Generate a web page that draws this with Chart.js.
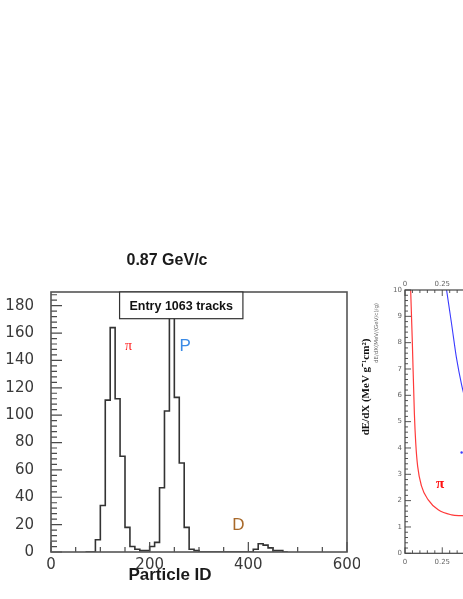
<!DOCTYPE html>
<html>
<head>
<meta charset="utf-8">
<script src="https://cdn.jsdelivr.net/npm/chart.js@4.4.1/dist/chart.umd.min.js"></script>
<style>
  html, body { margin: 0; padding: 0; background: #fff; }
  body { width: 463px; height: 599px; overflow: hidden; position: relative; }
  #dedxChart { position: absolute; left: 355px; top: 270px; }
  #pidChart { position: absolute; left: 0; top: 240px; }
</style>
</head>
<body>
<canvas id="dedxChart" width="260" height="329"></canvas>
<canvas id="pidChart" width="360" height="359"></canvas>
<script>
// Particle ID histogram: lower bin edges (width 10) and entries per bin
const binLow = [70, 80, 90, 100, 110, 120, 130, 140, 150, 160, 170, 180, 190,
                200, 210, 220, 230, 240, 250, 260, 270, 280, 290, 300, 310,
                320, 330, 340, 350, 360, 370, 380, 390, 400, 410, 420, 430,
                440, 450, 460, 470];
const counts = [0, 0, 9, 34, 111, 164, 112, 70, 18, 4, 2, 1, 1,
                4, 7, 47, 103, 180, 113, 65, 18, 2, 1, 0, 0,
                0, 0, 0, 0, 0, 0, 0, 0, 0, 2, 6, 5,
                3, 1, 1, 0];
const binWidth = 10;
const pidXTicks = [0, 200, 400, 600];
const pidYTicks = [0, 20, 40, 60, 80, 100, 120, 140, 160, 180];

// dE/dX panel (only its left edge is in the picture)
const piMomentum = [0.038, 0.049, 0.063, 0.072, 0.085, 0.111, 0.156, 0.223, 0.313, 0.38, 0.42];
const piDedx     = [10, 8.05, 5.3, 4.2, 3.3, 2.55, 2.03, 1.65, 1.46, 1.43, 1.42];
const pMomentum  = [0.279, 0.313, 0.346, 0.38, 0.42];
const pDedx      = [10, 8.7, 7.4, 6.4, 5.5];
const blueDot    = [{x: 0.38, y: 3.83}];
const dedxXTicks = [0, 0.25, 0.5, 0.75, 1];
const dedxYTicks = [0, 1, 2, 3, 4, 5, 6, 7, 8, 9, 10];

// step outline: one point per bin edge, closed back to zero
const histPoints = binLow.map((lo, i) => ({x: lo, y: counts[i]}));
histPoints.push({x: binLow[binLow.length - 1] + binWidth, y: 0});

const sans = "'Liberation Sans', Arial, sans-serif";
const fixedTicks = list => s => { s.ticks = list.map(v => ({value: v})); };

const pidDecor = {
  id: 'pidDecor',
  afterDatasetsDraw(chart) {
    const {ctx, chartArea: a, scales: {x, y}} = chart;
    ctx.save();
    ctx.strokeStyle = '#4a4a4a';
    ctx.lineWidth = 1.2;
    ctx.beginPath();
    for (let v = 0; v <= 188; v += 4) {
      const py = y.getPixelForValue(v);
      ctx.moveTo(a.left, py);
      ctx.lineTo(a.left + (v % 20 === 0 ? 11 : 6), py);
    }
    for (let v = 0; v <= 600; v += 50) {
      const px = x.getPixelForValue(v);
      ctx.moveTo(px, a.bottom);
      ctx.lineTo(px, a.bottom - (v % 200 === 0 ? 10 : 5));
    }
    ctx.stroke();

    // frame
    ctx.strokeStyle = '#555';
    ctx.lineWidth = 1.6;
    ctx.strokeRect(a.left, a.top, a.right - a.left, a.bottom - a.top);

    // stats box
    const bx1 = x.getPixelForValue(139), bx2 = x.getPixelForValue(389);
    const by2 = y.getPixelForValue(170.5);
    ctx.fillStyle = '#fff';
    ctx.fillRect(bx1, a.top, bx2 - bx1, by2 - a.top);
    ctx.strokeStyle = '#333';
    ctx.lineWidth = 1.2;
    ctx.strokeRect(bx1, a.top, bx2 - bx1, by2 - a.top);
    ctx.fillStyle = '#111';
    ctx.font = 'bold 12.5px ' + sans;
    ctx.textAlign = 'center';
    ctx.textBaseline = 'middle';
    ctx.fillText('Entry 1063 tracks', (bx1 + bx2) / 2, (a.top + by2) / 2 + 1);

    // particle labels
    ctx.fillStyle = '#ff1a1a';
    ctx.font = "14px 'Liberation Serif', serif";
    ctx.fillText('π', x.getPixelForValue(157), y.getPixelForValue(150));
    ctx.fillStyle = '#3a8ae6';
    ctx.font = '17px ' + sans;
    ctx.fillText('P', x.getPixelForValue(272), y.getPixelForValue(150));
    ctx.fillStyle = '#a8692a';
    ctx.fillText('D', x.getPixelForValue(380), y.getPixelForValue(19.5));

    // titles
    ctx.fillStyle = '#1a1a1a';
    ctx.font = 'bold 16px ' + sans;
    ctx.fillText('0.87 GeV/c', 167, 21);
    ctx.font = 'bold 17px ' + sans;
    ctx.fillText('Particle ID', 170, 335);
    ctx.restore();
  }
};

new Chart(document.getElementById('pidChart'), {
  type: 'line',
  data: {
    datasets: [{
      data: histPoints,
      stepped: 'before',
      borderColor: '#333',
      borderWidth: 1.6,
      pointRadius: 0,
      fill: false
    }]
  },
  options: {
    responsive: false,
    animation: false,
    devicePixelRatio: 1,
    layout: {padding: {top: 52, right: 13, left: 0, bottom: 0}},
    plugins: {legend: {display: false}, tooltip: {enabled: false}},
    scales: {
      x: {
        type: 'linear', min: 0, max: 600,
        grid: {display: false, drawTicks: false},
        border: {display: false},
        afterBuildTicks: fixedTicks(pidXTicks),
        ticks: {font: {family: 'DejaVu Sans', size: 15}, color: '#3a3a3a', padding: 4, maxRotation: 0},
        afterFit: s => { s.height = 47; s.paddingLeft = 0; s.paddingRight = 0; }
      },
      y: {
        type: 'linear', min: 0, max: 190,
        grid: {display: false, drawTicks: false},
        border: {display: false},
        afterBuildTicks: fixedTicks(pidYTicks),
        ticks: {font: {family: 'DejaVu Sans', size: 15}, color: '#3a3a3a', padding: 17},
        afterFit: s => { s.width = 51; s.paddingTop = 0; s.paddingBottom = 0; }
      }
    }
  },
  plugins: [pidDecor]
});

const dedxDecor = {
  id: 'dedxDecor',
  afterDatasetsDraw(chart) {
    const {ctx, chartArea: a, scales: {x, y}} = chart;
    ctx.save();
    ctx.strokeStyle = '#555';
    ctx.lineWidth = 1;
    ctx.beginPath();
    for (let i = 0; i <= 50; i++) {
      const py = y.getPixelForValue(i * 0.2);
      ctx.moveTo(a.left, py);
      ctx.lineTo(a.left + (i % 5 === 0 ? 6 : 3), py);
    }
    for (let i = 0; i <= 20; i++) {
      const px = x.getPixelForValue(i * 0.05);
      const len = i % 5 === 0 ? 6 : 3;
      ctx.moveTo(px, a.bottom); ctx.lineTo(px, a.bottom - len);
      ctx.moveTo(px, a.top); ctx.lineTo(px, a.top + len);
    }
    ctx.stroke();
    ctx.strokeStyle = '#444';
    ctx.lineWidth = 1.2;
    ctx.strokeRect(a.left, a.top, a.right - a.left, a.bottom - a.top);

    ctx.fillStyle = '#ff1010';
    ctx.font = "bold 15px 'Liberation Serif', serif";
    ctx.textAlign = 'center';
    ctx.textBaseline = 'middle';
    ctx.fillText('π', x.getPixelForValue(0.235), y.getPixelForValue(2.63));

    // rotated axis titles
    ctx.fillStyle = '#111';
    ctx.save();
    ctx.translate(11, 117);
    ctx.rotate(-Math.PI / 2);
    ctx.font = "bold 11px 'Liberation Serif', serif";
    ctx.fillText('dE/dX (MeV g⁻¹cm²)', 0, 0);
    ctx.restore();
    ctx.save();
    ctx.translate(22, 63);
    ctx.rotate(-Math.PI / 2);
    ctx.fillStyle = '#666';
    ctx.font = "5.5px 'DejaVu Sans', sans-serif";
    ctx.fillText('dE/dX(MeV/(GeV/c)/g)', 0, 0);
    ctx.restore();
    ctx.restore();
  }
};

const smallTicks = {
  font: {family: 'DejaVu Sans', size: 7}, color: '#666', maxRotation: 0,
  callback: v => String(v)
};

new Chart(document.getElementById('dedxChart'), {
  type: 'line',
  data: {
    datasets: [{
      data: piMomentum.map((p, i) => ({x: p, y: piDedx[i]})),
      borderColor: '#ff3a3a', borderWidth: 1.2, pointRadius: 0,
      cubicInterpolationMode: 'monotone', fill: false
    }, {
      data: pMomentum.map((p, i) => ({x: p, y: pDedx[i]})),
      borderColor: '#3a3aff', borderWidth: 1.1, pointRadius: 0,
      cubicInterpolationMode: 'monotone', fill: false
    }, {
      data: blueDot,
      showLine: false, pointRadius: 1.2, pointBorderWidth: 0,
      pointBackgroundColor: '#3a3aff'
    }]
  },
  options: {
    responsive: false,
    animation: false,
    devicePixelRatio: 1,
    layout: {padding: {top: 0, right: 61, left: 0, bottom: 0}},
    plugins: {legend: {display: false}, tooltip: {enabled: false}},
    scales: {
      x: {
        type: 'linear', min: 0, max: 1,
        grid: {display: false, drawTicks: false}, border: {display: false},
        afterBuildTicks: fixedTicks(dedxXTicks),
        ticks: Object.assign({padding: 5}, smallTicks),
        afterFit: s => { s.height = 45.7; s.paddingLeft = 0; s.paddingRight = 0; }
      },
      x2: {
        type: 'linear', position: 'top', min: 0, max: 1,
        grid: {display: false, drawTicks: false}, border: {display: false},
        afterBuildTicks: fixedTicks(dedxXTicks),
        ticks: Object.assign({padding: 2}, smallTicks),
        afterFit: s => { s.height = 20; s.paddingLeft = 0; s.paddingRight = 0; }
      },
      y: {
        type: 'linear', min: 0, max: 10,
        grid: {display: false, drawTicks: false}, border: {display: false},
        afterBuildTicks: fixedTicks(dedxYTicks),
        ticks: Object.assign({padding: 3}, smallTicks),
        afterFit: s => { s.width = 50; s.paddingTop = 0; s.paddingBottom = 0; }
      }
    }
  },
  plugins: [dedxDecor]
});
</script>
</body>
</html>
